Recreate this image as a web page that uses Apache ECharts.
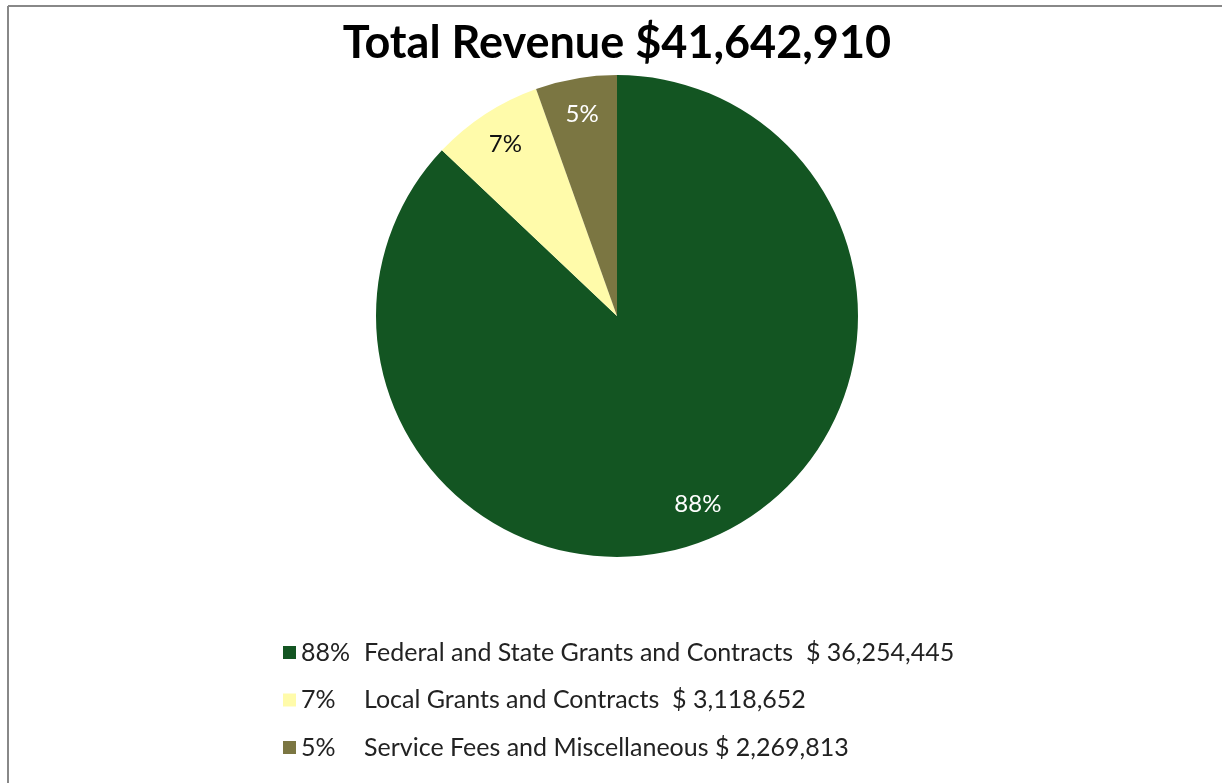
<!DOCTYPE html>
<html>
<head>
<meta charset="utf-8">
<script src="https://cdn.jsdelivr.net/npm/echarts@6/dist/echarts.min.js"></script>
<style>
html,body{margin:0;padding:0;background:#fff;}
#c{width:1222px;height:783px;}
</style>
</head>
<body>
<div id="c"></div>
<script>
const titleText = 'Total Revenue $41,642,910';
const categories = ['Federal and State Grants and Contracts', 'Local Grants and Contracts', 'Service Fees and Miscellaneous'];
const values = [36254445, 3118652, 2269813];
const pctLabels = ['88%', '7%', '5%'];
const amountLabels = ['$ 36,254,445', '$ 3,118,652', '$ 2,269,813'];
const nameGaps = ['  ', '  ', ' '];
const colors = ['#135522', '#FFFBAA', '#7B7642'];
const labelColors = ['#ffffff', '#111111', '#ffffff'];

const data = categories.map((n, i) => ({
  name: n, value: values[i],
  itemStyle: { color: colors[i] }
}));

const chart = echarts.init(document.getElementById('c'));
chart.setOption({
  animation: false,
  color: colors,
  title: {
    text: titleText, left: 612, top: 16, textAlign: 'center',
    textStyle: { fontFamily: 'Lato', fontWeight: 'bold', fontSize: 45, color: '#000' }
  },
  legend: {
    orient: 'vertical', left: 278, top: 635,
    icon: 'rect', itemWidth: 13, itemHeight: 13, itemGap: 22.5,
    data: categories,
    formatter: function (name) {
      const i = categories.indexOf(name);
      return '{p|' + pctLabels[i] + '}{n|' + name + nameGaps[i] + amountLabels[i] + '}';
    },
    textStyle: {
      fontFamily: 'Lato', fontSize: 25, color: '#222',
      rich: {
        p: { width: 63, fontFamily: 'Lato', fontSize: 25, color: '#222', lineHeight: 26 },
        n: { fontFamily: 'Lato', fontSize: 25, color: '#222', lineHeight: 26 }
      }
    }
  },
  graphic: [
    { type: 'line', shape: { x1: 8, y1: 6, x2: 1222, y2: 6 }, style: { stroke: '#888', lineWidth: 2 } },
    { type: 'line', shape: { x1: 8, y1: 6, x2: 8, y2: 783 }, style: { stroke: '#888', lineWidth: 2 } }
  ],
  series: [
    {
      type: 'pie', center: [617, 316], radius: [0, 241],
      startAngle: 90, clockwise: true,
      label: { show: false }, labelLine: { show: false },
      data: data
    },
    {
      type: 'pie', center: [617, 316], radius: [162, 241],
      startAngle: 90, clockwise: true, silent: true,
      itemStyle: { color: 'rgba(0,0,0,0)' },
      label: {
        show: true, position: 'inside', fontFamily: 'Lato', fontSize: 24,
        formatter: p => pctLabels[p.dataIndex]
      },
      labelLine: { show: false },
      data: categories.map((n, i) => ({
        name: n, value: values[i],
        itemStyle: { color: 'rgba(0,0,0,0)' },
        label: { color: labelColors[i] }
      }))
    }
  ]
});
</script>
</body>
</html>
